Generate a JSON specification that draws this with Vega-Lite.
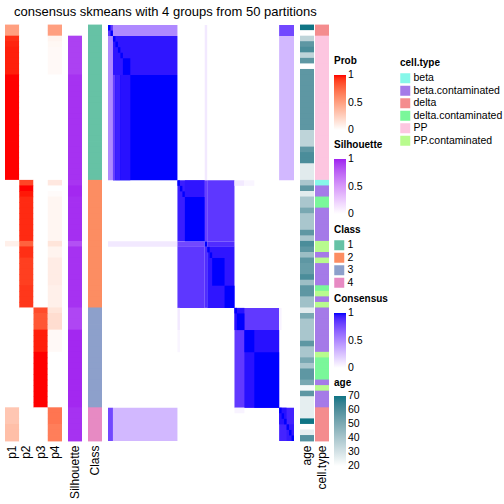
{
  "$schema": "https://vega.github.io/schema/vega-lite/v6.json",
  "padding": {"left": 5, "top": 5, "right": 0, "bottom": 0},
  "background": "white",
  "title": {"text": "consensus skmeans with 4 groups from 50 partitions", "fontSize": 13, "font": "Liberation Sans", "fontWeight": "normal", "anchor": "start", "frame": "group", "dx": 9, "offset": 6, "color": "#000000"},
  "config": {
    "view": {"stroke": null},
    "font": "Liberation Sans",
    "axis": {"ticks": false, "domain": false, "labelAngle": -90, "labelFontSize": 12, "labelPadding": 4, "labelColor": "#000000", "grid": false},
    "legend": {"orient": "none", "titleFontSize": 10, "titleFontWeight": "bold", "titleColor": "#000000", "labelFontSize": 10.5, "labelColor": "#000000", "gradientThickness": 12, "gradientLength": 55, "gradientStrokeWidth": 0, "symbolType": "square", "symbolSize": 100, "symbolStrokeWidth": 0, "symbolOpacity": 1, "titlePadding": 5, "labelOffset": 3, "rowPadding": 1.5, "labelOverlap": false}
  },
  "datasets": {
    "samples": [
      {"s":0,"cls":1,"p1":0.5,"p2":0,"p3":0,"p4":0.5,"sil":0,"age":70,"cell":"delta"},
      {"s":1,"cls":1,"p1":0.5,"p2":0,"p3":0,"p4":0.5,"sil":0,"age":20,"cell":"delta"},
      {"s":2,"cls":1,"p1":0.94,"p2":0,"p3":0,"p4":0.06,"sil":0.9,"age":35,"cell":"PP"},
      {"s":3,"cls":1,"p1":0.96,"p2":0,"p3":0,"p4":0.04,"sil":0.9,"age":57,"cell":"PP"},
      {"s":4,"cls":1,"p1":0.97,"p2":0,"p3":0,"p4":0.03,"sil":0.9,"age":61,"cell":"PP"},
      {"s":5,"cls":1,"p1":0.97,"p2":0,"p3":0,"p4":0.03,"sil":0.9,"age":35,"cell":"PP"},
      {"s":6,"cls":1,"p1":0.97,"p2":0,"p3":0,"p4":0.03,"sil":0.9,"age":57,"cell":"PP"},
      {"s":7,"cls":1,"p1":0.97,"p2":0,"p3":0,"p4":0.03,"sil":0.9,"age":20,"cell":"PP"},
      {"s":8,"cls":1,"p1":0.97,"p2":0,"p3":0,"p4":0.03,"sil":0.9,"age":57,"cell":"PP"},
      {"s":9,"cls":1,"p1":1,"p2":0,"p3":0,"p4":0,"sil":0.95,"age":57,"cell":"PP"},
      {"s":10,"cls":1,"p1":1,"p2":0,"p3":0,"p4":0,"sil":0.95,"age":57,"cell":"PP"},
      {"s":11,"cls":1,"p1":1,"p2":0,"p3":0,"p4":0,"sil":0.95,"age":57,"cell":"PP"},
      {"s":12,"cls":1,"p1":1,"p2":0,"p3":0,"p4":0,"sil":0.95,"age":57,"cell":"PP"},
      {"s":13,"cls":1,"p1":1,"p2":0,"p3":0,"p4":0,"sil":0.95,"age":57,"cell":"PP"},
      {"s":14,"cls":1,"p1":1,"p2":0,"p3":0,"p4":0,"sil":0.95,"age":57,"cell":"PP"},
      {"s":15,"cls":1,"p1":1,"p2":0,"p3":0,"p4":0,"sil":0.95,"age":57,"cell":"PP"},
      {"s":16,"cls":1,"p1":1,"p2":0,"p3":0,"p4":0,"sil":0.95,"age":57,"cell":"PP"},
      {"s":17,"cls":1,"p1":1,"p2":0,"p3":0,"p4":0,"sil":0.95,"age":57,"cell":"PP"},
      {"s":18,"cls":1,"p1":1,"p2":0,"p3":0,"p4":0,"sil":0.95,"age":57,"cell":"PP"},
      {"s":19,"cls":1,"p1":1,"p2":0,"p3":0,"p4":0,"sil":0.95,"age":35,"cell":"PP"},
      {"s":20,"cls":1,"p1":1,"p2":0,"p3":0,"p4":0,"sil":0.95,"age":35,"cell":"PP"},
      {"s":21,"cls":1,"p1":1,"p2":0,"p3":0,"p4":0,"sil":0.95,"age":35,"cell":"PP"},
      {"s":22,"cls":1,"p1":1,"p2":0,"p3":0,"p4":0,"sil":0.95,"age":57,"cell":"PP"},
      {"s":23,"cls":1,"p1":1,"p2":0,"p3":0,"p4":0,"sil":0.95,"age":61,"cell":"PP"},
      {"s":24,"cls":1,"p1":1,"p2":0,"p3":0,"p4":0,"sil":0.95,"age":61,"cell":"PP"},
      {"s":25,"cls":1,"p1":1,"p2":0,"p3":0,"p4":0,"sil":0.95,"age":27,"cell":"PP"},
      {"s":26,"cls":1,"p1":1,"p2":0,"p3":0,"p4":0,"sil":0.95,"age":27,"cell":"PP"},
      {"s":27,"cls":1,"p1":1,"p2":0,"p3":0,"p4":0,"sil":0.95,"age":27,"cell":"PP"},
      {"s":28,"cls":2,"p1":0,"p2":0.88,"p3":0,"p4":0.12,"sil":0.94,"age":40,"cell":"beta"},
      {"s":29,"cls":2,"p1":0,"p2":1,"p3":0,"p4":0,"sil":0.98,"age":57,"cell":"beta.contaminated"},
      {"s":30,"cls":2,"p1":0,"p2":0.98,"p3":0,"p4":0.02,"sil":0.98,"age":27,"cell":"beta.contaminated"},
      {"s":31,"cls":2,"p1":0,"p2":0.95,"p3":0,"p4":0.05,"sil":0.96,"age":40,"cell":"delta.contaminated"},
      {"s":32,"cls":2,"p1":0,"p2":0.95,"p3":0,"p4":0.05,"sil":0.96,"age":40,"cell":"delta.contaminated"},
      {"s":33,"cls":2,"p1":0,"p2":0.95,"p3":0,"p4":0.05,"sil":0.96,"age":51,"cell":"beta.contaminated"},
      {"s":34,"cls":2,"p1":0,"p2":0.95,"p3":0,"p4":0.05,"sil":0.96,"age":40,"cell":"beta.contaminated"},
      {"s":35,"cls":2,"p1":0,"p2":0.95,"p3":0,"p4":0.05,"sil":0.96,"age":40,"cell":"beta.contaminated"},
      {"s":36,"cls":2,"p1":0,"p2":0.95,"p3":0,"p4":0.05,"sil":0.96,"age":40,"cell":"beta.contaminated"},
      {"s":37,"cls":2,"p1":0,"p2":0.95,"p3":0,"p4":0.05,"sil":0.96,"age":57,"cell":"beta.contaminated"},
      {"s":38,"cls":2,"p1":0,"p2":0.95,"p3":0,"p4":0.05,"sil":0.96,"age":40,"cell":"beta.contaminated"},
      {"s":39,"cls":2,"p1":0.08,"p2":0.78,"p3":0,"p4":0.14,"sil":0.84,"age":61,"cell":"PP.contaminated"},
      {"s":40,"cls":2,"p1":0,"p2":0.94,"p3":0,"p4":0.06,"sil":0.95,"age":57,"cell":"PP.contaminated"},
      {"s":41,"cls":2,"p1":0,"p2":0.94,"p3":0,"p4":0.06,"sil":0.95,"age":43,"cell":"beta.contaminated"},
      {"s":42,"cls":2,"p1":0,"p2":0.9,"p3":0,"p4":0.1,"sil":0.95,"age":57,"cell":"PP.contaminated"},
      {"s":43,"cls":2,"p1":0,"p2":0.9,"p3":0,"p4":0.1,"sil":0.95,"age":55,"cell":"beta.contaminated"},
      {"s":44,"cls":2,"p1":0,"p2":0.9,"p3":0,"p4":0.1,"sil":0.95,"age":55,"cell":"beta.contaminated"},
      {"s":45,"cls":2,"p1":0,"p2":0.9,"p3":0,"p4":0.1,"sil":0.95,"age":61,"cell":"beta.contaminated"},
      {"s":46,"cls":2,"p1":0,"p2":0.9,"p3":0,"p4":0.1,"sil":0.95,"age":43,"cell":"beta.contaminated"},
      {"s":47,"cls":2,"p1":0,"p2":0.92,"p3":0,"p4":0.08,"sil":0.95,"age":57,"cell":"delta.contaminated"},
      {"s":48,"cls":2,"p1":0,"p2":0.92,"p3":0,"p4":0.08,"sil":0.95,"age":57,"cell":"PP.contaminated"},
      {"s":49,"cls":2,"p1":0,"p2":0.92,"p3":0,"p4":0.08,"sil":0.95,"age":42,"cell":"beta.contaminated"},
      {"s":50,"cls":2,"p1":0,"p2":0.92,"p3":0,"p4":0.08,"sil":0.95,"age":42,"cell":"PP.contaminated"},
      {"s":51,"cls":3,"p1":0,"p2":0,"p3":0.86,"p4":0.14,"sil":0.88,"age":27,"cell":"beta.contaminated"},
      {"s":52,"cls":3,"p1":0,"p2":0,"p3":0.82,"p4":0.18,"sil":0.88,"age":51,"cell":"beta.contaminated"},
      {"s":53,"cls":3,"p1":0,"p2":0,"p3":0.82,"p4":0.18,"sil":0.88,"age":40,"cell":"beta.contaminated"},
      {"s":54,"cls":3,"p1":0,"p2":0,"p3":0.82,"p4":0.18,"sil":0.88,"age":40,"cell":"beta.contaminated"},
      {"s":55,"cls":3,"p1":0,"p2":0,"p3":0.97,"p4":0.03,"sil":0.98,"age":40,"cell":"beta.contaminated"},
      {"s":56,"cls":3,"p1":0,"p2":0,"p3":0.97,"p4":0.03,"sil":0.98,"age":40,"cell":"beta.contaminated"},
      {"s":57,"cls":3,"p1":0,"p2":0,"p3":0.97,"p4":0.03,"sil":0.98,"age":57,"cell":"beta.contaminated"},
      {"s":58,"cls":3,"p1":0,"p2":0,"p3":0.97,"p4":0.03,"sil":0.98,"age":40,"cell":"beta.contaminated"},
      {"s":59,"cls":3,"p1":0,"p2":0,"p3":1,"p4":0,"sil":0.98,"age":40,"cell":"PP.contaminated"},
      {"s":60,"cls":3,"p1":0,"p2":0,"p3":1,"p4":0,"sil":0.98,"age":51,"cell":"delta.contaminated"},
      {"s":61,"cls":3,"p1":0,"p2":0,"p3":1,"p4":0,"sil":0.98,"age":40,"cell":"delta.contaminated"},
      {"s":62,"cls":3,"p1":0,"p2":0,"p3":1,"p4":0,"sil":0.98,"age":57,"cell":"delta.contaminated"},
      {"s":63,"cls":3,"p1":0,"p2":0,"p3":1,"p4":0,"sil":0.98,"age":57,"cell":"delta.contaminated"},
      {"s":64,"cls":3,"p1":0,"p2":0,"p3":1,"p4":0,"sil":0.98,"age":51,"cell":"beta.contaminated"},
      {"s":65,"cls":3,"p1":0,"p2":0,"p3":1,"p4":0,"sil":0.98,"age":22,"cell":"PP.contaminated"},
      {"s":66,"cls":3,"p1":0,"p2":0,"p3":1,"p4":0,"sil":0.98,"age":57,"cell":"beta.contaminated"},
      {"s":67,"cls":3,"p1":0,"p2":0,"p3":1,"p4":0,"sil":0.98,"age":26,"cell":"beta.contaminated"},
      {"s":68,"cls":3,"p1":0,"p2":0,"p3":1,"p4":0,"sil":0.98,"age":26,"cell":"beta.contaminated"},
      {"s":69,"cls":4,"p1":0.3,"p2":0,"p3":0,"p4":0.7,"sil":0.95,"age":26,"cell":"delta"},
      {"s":70,"cls":4,"p1":0.3,"p2":0,"p3":0,"p4":0.7,"sil":0.95,"age":26,"cell":"delta"},
      {"s":71,"cls":4,"p1":0.3,"p2":0,"p3":0,"p4":0.7,"sil":0.95,"age":70,"cell":"delta"},
      {"s":72,"cls":4,"p1":0.34,"p2":0,"p3":0,"p4":0.66,"sil":0.95,"age":20,"cell":"delta"},
      {"s":73,"cls":4,"p1":0.34,"p2":0,"p3":0,"p4":0.66,"sil":0.95,"age":26,"cell":"delta"},
      {"s":74,"cls":4,"p1":0.34,"p2":0,"p3":0,"p4":0.66,"sil":0.95,"age":59,"cell":"delta"}
    ],
    "cons": [
      {"r1":0,"r2":2,"c1":0,"c2":2,"v":0.85},
      {"r1":0,"r2":1,"c1":0,"c2":1,"v":1},
      {"r1":1,"r2":2,"c1":1,"c2":2,"v":1},
      {"r1":0,"r2":2,"c1":2,"c2":28,"v":0.5},
      {"r1":2,"r2":28,"c1":0,"c2":2,"v":0.5},
      {"r1":2,"r2":9,"c1":2,"c2":28,"v":0.96},
      {"r1":6,"r2":9,"c1":6,"c2":9,"v":1},
      {"r1":2,"r2":3,"c1":2,"c2":3,"v":1},
      {"r1":3,"r2":4,"c1":3,"c2":4,"v":1},
      {"r1":4,"r2":5,"c1":4,"c2":5,"v":1},
      {"r1":5,"r2":6,"c1":5,"c2":6,"v":1},
      {"r1":9,"r2":28,"c1":2,"c2":28,"v":1},
      {"r1":9,"r2":28,"c1":2,"c2":3,"v":0.82},
      {"r1":9,"r2":28,"c1":3,"c2":5,"v":0.93},
      {"r1":9,"r2":28,"c1":5,"c2":9,"v":0.97},
      {"r1":0,"r2":28,"c1":39,"c2":40,"v":0.09},
      {"r1":39,"r2":40,"c1":0,"c2":28,"v":0.09},
      {"r1":0,"r2":2,"c1":69,"c2":75,"v":0.78},
      {"r1":2,"r2":28,"c1":69,"c2":75,"v":0.3},
      {"r1":69,"r2":75,"c1":0,"c2":2,"v":0.78},
      {"r1":69,"r2":75,"c1":2,"c2":28,"v":0.3},
      {"r1":28,"r2":39,"c1":28,"c2":39,"v":0.94},
      {"r1":28,"r2":29,"c1":28,"c2":29,"v":1},
      {"r1":29,"r2":30,"c1":29,"c2":30,"v":1},
      {"r1":30,"r2":31,"c1":30,"c2":31,"v":1},
      {"r1":28,"r2":31,"c1":31,"c2":39,"v":0.96},
      {"r1":28,"r2":39,"c1":39,"c2":40,"v":0.82},
      {"r1":39,"r2":40,"c1":28,"c2":39,"v":0.78},
      {"r1":28,"r2":39,"c1":40,"c2":51,"v":0.85},
      {"r1":40,"r2":51,"c1":28,"c2":39,"v":0.85},
      {"r1":31,"r2":39,"c1":31,"c2":39,"v":1},
      {"r1":39,"r2":40,"c1":39,"c2":40,"v":1},
      {"r1":39,"r2":40,"c1":40,"c2":51,"v":0.89},
      {"r1":40,"r2":51,"c1":39,"c2":40,"v":0.89},
      {"r1":40,"r2":51,"c1":40,"c2":51,"v":0.96},
      {"r1":40,"r2":41,"c1":40,"c2":41,"v":1},
      {"r1":41,"r2":42,"c1":41,"c2":42,"v":1},
      {"r1":42,"r2":47,"c1":42,"c2":47,"v":1},
      {"r1":47,"r2":51,"c1":47,"c2":51,"v":1},
      {"r1":28,"r2":29,"c1":51,"c2":55,"v":0.09},
      {"r1":28,"r2":29,"c1":55,"c2":59,"v":0.04},
      {"r1":51,"r2":55,"c1":28,"c2":29,"v":0.09},
      {"r1":55,"r2":59,"c1":28,"c2":29,"v":0.04},
      {"r1":51,"r2":69,"c1":51,"c2":69,"v":0.84},
      {"r1":51,"r2":55,"c1":51,"c2":55,"v":0.97},
      {"r1":51,"r2":52,"c1":51,"c2":52,"v":1},
      {"r1":52,"r2":55,"c1":52,"c2":55,"v":1},
      {"r1":55,"r2":69,"c1":55,"c2":69,"v":0.97},
      {"r1":55,"r2":59,"c1":55,"c2":59,"v":1},
      {"r1":59,"r2":69,"c1":59,"c2":69,"v":1},
      {"r1":69,"r2":70,"c1":51,"c2":55,"v":0.05},
      {"r1":51,"r2":55,"c1":69,"c2":70,"v":0.05},
      {"r1":69,"r2":75,"c1":69,"c2":75,"v":0.92},
      {"r1":69,"r2":72,"c1":69,"c2":72,"v":0.97},
      {"r1":72,"r2":75,"c1":72,"c2":75,"v":0.95},
      {"r1":69,"r2":70,"c1":69,"c2":70,"v":1},
      {"r1":70,"r2":71,"c1":70,"c2":71,"v":1},
      {"r1":71,"r2":72,"c1":71,"c2":72,"v":1},
      {"r1":72,"r2":73,"c1":72,"c2":73,"v":1},
      {"r1":73,"r2":74,"c1":73,"c2":74,"v":1},
      {"r1":74,"r2":75,"c1":74,"c2":75,"v":1}
    ]
  },
  "bounds": "flush",
  "spacing": 6,
  "hconcat": [
    {
      "width": 57, "height": 416,
      "data": {"name": "samples"},
      "transform": [{"fold": ["p1", "p2", "p3", "p4"], "as": ["key", "prob"]}],
      "mark": {"type": "rect", "height": {"band": 1.15}},
      "encoding": {
        "x": {"field": "key", "type": "nominal", "scale": {"domain": ["p1", "p2", "p3", "p4"], "paddingInner": 0, "paddingOuter": 0}, "axis": {"title": null}},
        "y": {"field": "s", "type": "ordinal", "scale": {"paddingInner": 0, "paddingOuter": 0}, "axis": null},
        "color": {"field": "prob", "type": "quantitative", "scale": {"domain": [0, 1], "range": ["#ffffff", "#ff0000"], "interpolate": "lab"}, "legend": {"title": "Prob", "values": [0.0001, 0.5, 0.9999], "labelExpr": "round(datum.value * 10) / 10", "titlePadding": 9, "legendX": 329, "legendY": 31}}
      }
    },
    {
      "width": 14, "height": 416,
      "data": {"name": "samples"},
      "mark": {"type": "rect", "height": {"band": 1.15}},
      "encoding": {
        "x": {"datum": "Silhouette", "type": "nominal", "scale": {"paddingInner": 0, "paddingOuter": 0}, "axis": {"title": null}},
        "y": {"field": "s", "type": "ordinal", "scale": {"paddingInner": 0, "paddingOuter": 0}, "axis": null},
        "color": {"field": "sil", "type": "quantitative", "scale": {"domain": [0, 1], "range": ["#ffffff", "#a020f0"], "interpolate": "lab"}, "legend": {"title": "Silhouette", "values": [0.0001, 0.5, 0.9999], "labelExpr": "round(datum.value * 10) / 10", "titlePadding": 9, "legendX": 266, "legendY": 115}}
      }
    },
    {
      "width": 14, "height": 416,
      "data": {"name": "samples"},
      "mark": {"type": "rect", "height": {"band": 1.15}},
      "encoding": {
        "x": {"datum": "Class", "type": "nominal", "scale": {"paddingInner": 0, "paddingOuter": 0}, "axis": {"title": null}},
        "y": {"field": "s", "type": "ordinal", "scale": {"paddingInner": 0, "paddingOuter": 0}, "axis": null},
        "color": {"field": "cls", "type": "nominal", "scale": {"domain": [1, 2, 3, 4], "range": ["#66c2a5", "#fc8d62", "#8da0cb", "#e78ac3"]}, "legend": {"title": "Class", "legendX": 246, "legendY": 200}}
      }
    },
    {
      "width": 186, "height": 416,
      "data": {"name": "cons"},
      "mark": {"type": "rect"},
      "encoding": {
        "x": {"field": "c1", "type": "quantitative", "scale": {"domain": [0, 75], "nice": false, "zero": false}, "axis": null},
        "x2": {"field": "c2"},
        "y": {"field": "r1", "type": "quantitative", "scale": {"domain": [0, 75], "nice": false, "zero": false, "reverse": true}, "axis": null},
        "y2": {"field": "r2"},
        "color": {"field": "v", "type": "quantitative", "scale": {"domain": [0, 1], "range": ["#ffffff", "#0000ff"], "interpolate": "lab"}, "legend": {"title": "Consensus", "values": [0.0001, 0.5, 0.9999], "labelExpr": "round(datum.value * 10) / 10", "titlePadding": 9, "legendX": 226, "legendY": 269}}
      }
    },
    {
      "width": 29, "height": 416,
      "data": {"name": "samples"},
      "layer": [
        {
          "mark": {"type": "rect", "height": {"band": 1.15}},
          "encoding": {
            "x": {"datum": "age", "type": "nominal", "scale": {"domain": ["age", "cell.type"], "paddingInner": 0.067, "paddingOuter": 0}, "axis": {"title": null}},
            "y": {"field": "s", "type": "ordinal", "scale": {"paddingInner": 0, "paddingOuter": 0}, "axis": null},
            "color": {"field": "age", "type": "quantitative", "scale": {"domain": [20, 70], "range": ["#ffffff", "#107585"], "interpolate": "lab"}, "legend": {"title": "age", "values": [20.001, 30, 40, 50, 60, 69.999], "labelExpr": "round(datum.value)", "titlePadding": 8, "gradientLength": 70, "legendX": 34, "legendY": 353}}
          }
        },
        {
          "mark": {"type": "rect", "height": {"band": 1.15}},
          "encoding": {
            "x": {"datum": "cell.type", "type": "nominal"},
            "y": {"field": "s", "type": "ordinal", "axis": null},
            "color": {"field": "cell", "type": "nominal", "scale": {"domain": ["beta", "beta.contaminated", "delta", "delta.contaminated", "PP", "PP.contaminated"], "range": ["#86f7e9", "#a57ae8", "#f48c8e", "#7af79a", "#fdc6e0", "#b8fb8e"]}, "legend": {"title": "cell.type", "legendX": 100, "legendY": 33}}
          }
        }
      ],
      "resolve": {"scale": {"color": "independent"}}
    }
  ]
}
